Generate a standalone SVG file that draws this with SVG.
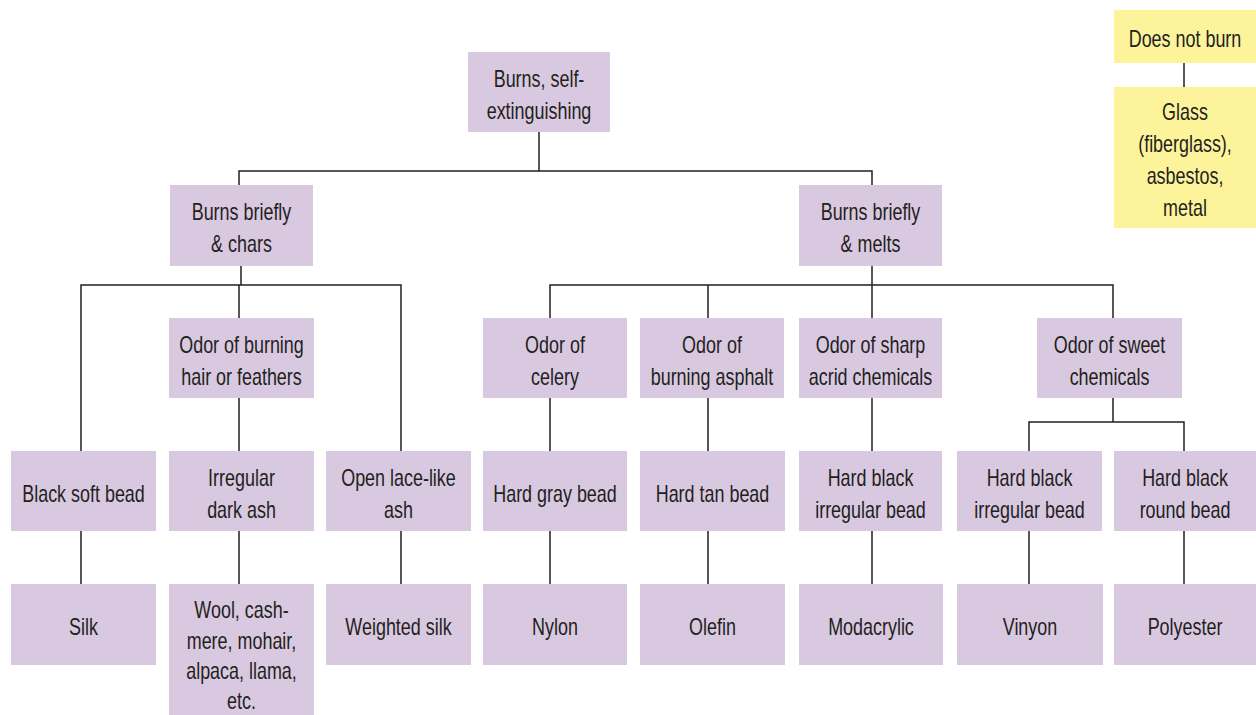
<svg xmlns="http://www.w3.org/2000/svg" width="1256" height="715" viewBox="0 0 1256 715">
<style>
.n{fill:#d9c9e0}
.y{fill:#fdf39b}
text{font-family:"Liberation Sans",Arial,sans-serif;font-size:23px;fill:#231f20;text-anchor:middle}
.c{fill:none;stroke:#231f20;stroke-width:1.5}
</style>
<rect width="1256" height="715" fill="#ffffff"/>
<g id="connectors" class="c">
<path d="M539 132V171M239 185V171H872V185"/>
<path d="M241 266V285M81 451V285H401V451M239 285V318M239 398V451"/>
<path d="M872 266V285M550 318V285H1113V318M708 285V318M872 285V318"/>
<path d="M550 398V451M708 398V451M872 398V451"/>
<path d="M1113 398V422M1029 451V422H1184V451"/>
<path d="M81 531V584M239 531V584M401 531V584M550 531V584M708 531V584M872 531V584M1029 531V584M1184 531V584"/>
<path d="M1184 63V87"/>
</g>
<g id="n-top"><rect class="n" x="468" y="52" width="142" height="80"/><text transform="translate(539 86.5) scale(.78 1)">Burns, self-</text><text transform="translate(539 118.5) scale(.78 1)">extinguishing</text></g>
<g id="n-chars"><rect class="n" x="170" y="185" width="143" height="81"/><text transform="translate(241.5 220) scale(.78 1)">Burns briefly</text><text transform="translate(241.5 252) scale(.78 1)">&amp; chars</text></g>
<g id="n-melts"><rect class="n" x="799" y="185" width="143" height="81"/><text transform="translate(870.5 220) scale(.78 1)">Burns briefly</text><text transform="translate(870.5 252) scale(.78 1)">&amp; melts</text></g>
<g id="n-hair"><rect class="n" x="169" y="318" width="145" height="80"/><text transform="translate(241.5 352.5) scale(.78 1)">Odor of burning</text><text transform="translate(241.5 384.5) scale(.78 1)">hair or feathers</text></g>
<g id="n-celery"><rect class="n" x="483" y="318" width="144" height="80"/><text transform="translate(555 352.5) scale(.78 1)">Odor of</text><text transform="translate(555 384.5) scale(.78 1)">celery</text></g>
<g id="n-asphalt"><rect class="n" x="640" y="318" width="144" height="80"/><text transform="translate(712 352.5) scale(.78 1)">Odor of</text><text transform="translate(712 384.5) scale(.78 1)">burning asphalt</text></g>
<g id="n-acrid"><rect class="n" x="799" y="318" width="143" height="80"/><text transform="translate(870.5 352.5) scale(.78 1)">Odor of sharp</text><text transform="translate(870.5 384.5) scale(.78 1)">acrid chemicals</text></g>
<g id="n-sweet"><rect class="n" x="1037" y="318" width="145" height="80"/><text transform="translate(1109.5 352.5) scale(.78 1)">Odor of sweet</text><text transform="translate(1109.5 384.5) scale(.78 1)">chemicals</text></g>
<g id="n-blacksoft"><rect class="n" x="11" y="451" width="145" height="80"/><text transform="translate(83.5 501.5) scale(.78 1)">Black soft bead</text></g>
<g id="n-darkash"><rect class="n" x="169" y="451" width="145" height="80"/><text transform="translate(241.5 485.5) scale(.78 1)">Irregular</text><text transform="translate(241.5 517.5) scale(.78 1)">dark ash</text></g>
<g id="n-lace"><rect class="n" x="326" y="451" width="145" height="80"/><text transform="translate(398.5 485.5) scale(.78 1)">Open lace-like</text><text transform="translate(398.5 517.5) scale(.78 1)">ash</text></g>
<g id="n-gray"><rect class="n" x="483" y="451" width="144" height="80"/><text transform="translate(555 501.5) scale(.78 1)">Hard gray bead</text></g>
<g id="n-tan"><rect class="n" x="640" y="451" width="145" height="80"/><text transform="translate(712.5 501.5) scale(.78 1)">Hard tan bead</text></g>
<g id="n-irr1"><rect class="n" x="799" y="451" width="143" height="80"/><text transform="translate(870.5 485.5) scale(.78 1)">Hard black</text><text transform="translate(870.5 517.5) scale(.78 1)">irregular bead</text></g>
<g id="n-irr2"><rect class="n" x="957" y="451" width="145" height="80"/><text transform="translate(1029.5 485.5) scale(.78 1)">Hard black</text><text transform="translate(1029.5 517.5) scale(.78 1)">irregular bead</text></g>
<g id="n-round"><rect class="n" x="1114" y="451" width="142" height="80"/><text transform="translate(1185 485.5) scale(.78 1)">Hard black</text><text transform="translate(1185 517.5) scale(.78 1)">round bead</text></g>
<g id="n-silk"><rect class="n" x="11" y="584" width="145" height="81"/><text transform="translate(83.5 635) scale(.78 1)">Silk</text></g>
<g id="n-wool"><rect class="n" x="169" y="584" width="145" height="151"/><text transform="translate(241.5 618) scale(.78 1)">Wool, cash-</text><text transform="translate(241.5 648.5) scale(.78 1)">mere, mohair,</text><text transform="translate(241.5 679) scale(.78 1)">alpaca, llama,</text><text transform="translate(241.5 709) scale(.78 1)">etc.</text></g>
<g id="n-wsilk"><rect class="n" x="326" y="584" width="145" height="81"/><text transform="translate(398.5 635) scale(.78 1)">Weighted silk</text></g>
<g id="n-nylon"><rect class="n" x="483" y="584" width="144" height="81"/><text transform="translate(555 635) scale(.78 1)">Nylon</text></g>
<g id="n-olefin"><rect class="n" x="640" y="584" width="145" height="81"/><text transform="translate(712.5 635) scale(.78 1)">Olefin</text></g>
<g id="n-modacrylic"><rect class="n" x="799" y="584" width="144" height="81"/><text transform="translate(871 635) scale(.78 1)">Modacrylic</text></g>
<g id="n-vinyon"><rect class="n" x="957" y="584" width="146" height="81"/><text transform="translate(1030 635) scale(.78 1)">Vinyon</text></g>
<g id="n-polyester"><rect class="n" x="1114" y="584" width="142" height="81"/><text transform="translate(1185 635) scale(.78 1)">Polyester</text></g>
<g id="n-noburn"><rect class="y" x="1114" y="10" width="142" height="53"/><text transform="translate(1185 47) scale(.78 1)">Does not burn</text></g>
<g id="n-glass"><rect class="y" x="1114" y="87" width="142" height="141"/><text transform="translate(1185 120) scale(.78 1)">Glass</text><text transform="translate(1185 152) scale(.78 1)">(fiberglass),</text><text transform="translate(1185 184) scale(.78 1)">asbestos,</text><text transform="translate(1185 216) scale(.78 1)">metal</text></g>
</svg>
